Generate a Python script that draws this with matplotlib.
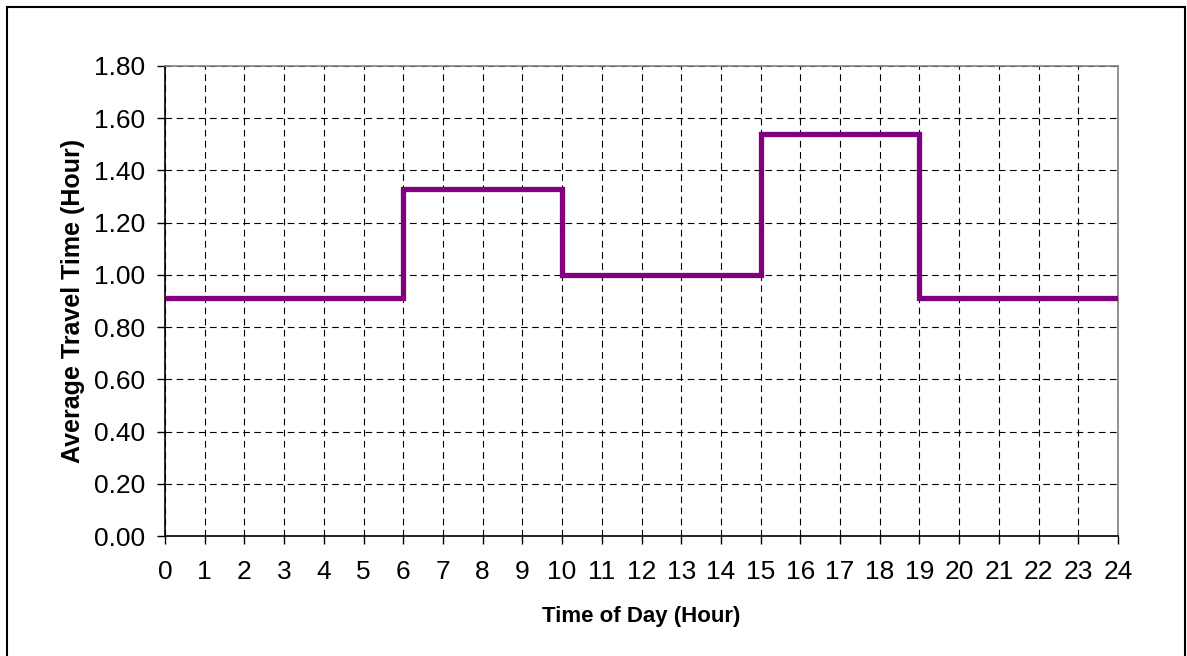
import matplotlib
matplotlib.use("Agg")
import matplotlib.pyplot as plt
from matplotlib.patches import Rectangle

# Data
hour_edges = [0, 6, 10, 15, 19, 24]
travel_time = [0.91, 1.33, 1.00, 1.54, 0.91]
x_ticks = list(range(0, 25))
y_ticks = [0.0, 0.2, 0.4, 0.6, 0.8, 1.0, 1.2, 1.4, 1.6, 1.8]

plt.rcParams['font.family'] = ['Liberation Sans', 'DejaVu Sans']

fig = plt.figure(figsize=(11.87, 6.56), dpi=100)
ax = fig.add_axes([165/1187, 1-536/656, (1118-165)/1187, (536-66)/656])

# outer frame
fig.patches.append(Rectangle((7/1187, -0.05), (1185-7)/1187, 1.05 - 7/656,
                             transform=fig.transFigure, fill=False,
                             edgecolor='black', linewidth=1.5, zorder=0))

ax.stairs(travel_time, hour_edges, color='#800080', linewidth=3.8, zorder=3,
          baseline=None)

ax.set_xlim(0, 24)
ax.set_ylim(0, 1.8)
ax.set_xticks(x_ticks)
ax.set_xticklabels([str(t) for t in x_ticks])
ax.set_yticks(y_ticks)
ax.set_yticklabels([f"{v:.2f}" for v in y_ticks])

ax.grid(True, color='black', linestyle=(0, (6, 4)), linewidth=0.8)
ax.tick_params(axis='both', direction='out', length=6, width=1, labelsize=19, colors='black')
ax.tick_params(axis='x', pad=11)
ax.tick_params(axis='y', pad=8)

ax.spines['left'].set_color('black')
ax.spines['bottom'].set_color('black')
ax.spines['top'].set_color('#808080')
ax.spines['right'].set_color('#808080')
for s in ax.spines.values():
    s.set_linewidth(1.2)

ax.set_xlabel('Time of Day (Hour)', fontsize=16, fontweight='bold', labelpad=16)
ax.set_ylabel('Average Travel Time (Hour)', fontsize=18, fontweight='bold', labelpad=7)

fig.savefig('out.png', dpi=100)
